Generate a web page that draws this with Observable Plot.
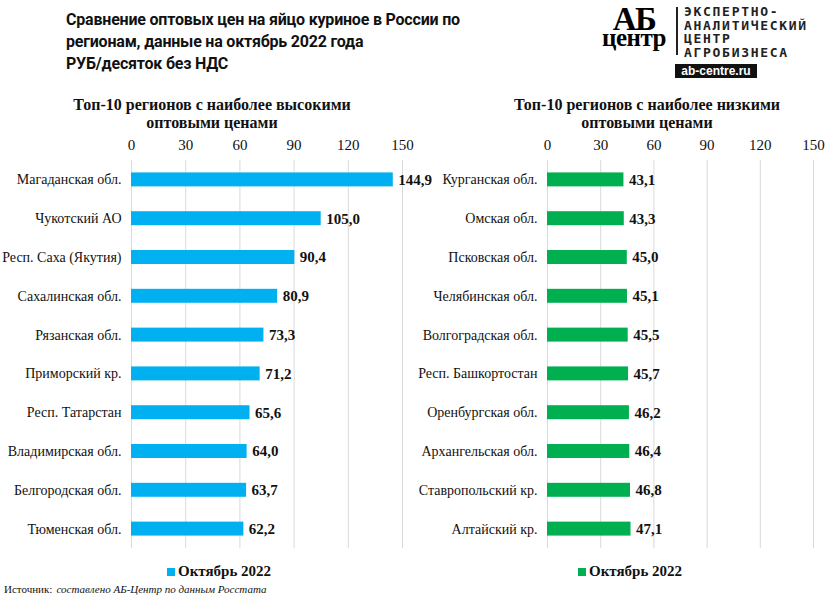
<!DOCTYPE html>
<html><head><meta charset="utf-8">
<script src="https://cdn.jsdelivr.net/npm/d3@7"></script>
<script src="https://cdn.jsdelivr.net/npm/@observablehq/plot@0.6"></script>
<style>
body{margin:0;background:#fff;width:828px;height:598px;position:relative;overflow:hidden;font-family:"Liberation Serif",serif;}
.abs{position:absolute;}
#title{left:66px;top:9px;font-family:Roboto,sans-serif;font-weight:700;font-size:16px;line-height:22px;color:#111;letter-spacing:-0.2px;}
.ptitle{font-family:"Liberation Serif",serif;font-weight:700;font-size:16px;line-height:18px;text-align:center;width:400px;color:#111;}
.legend{font-family:"Liberation Serif",serif;font-weight:700;font-size:15px;color:#111;display:flex;align-items:center;}
.legend span.sw{display:inline-block;width:8px;height:8px;margin-right:3px;}
#source{left:4px;top:583px;font-size:11px;color:#111;}
#source i{margin-left:4px;}
svg{overflow:visible;}
</style></head>
<body>
<div id="title" class="abs">Сравнение оптовых цен на яйцо куриное в России по<br>регионам, данные на октябрь 2022 года<br>РУБ/десяток без НДС</div>

<div id="logo" class="abs" style="left:596px;top:0px;width:220px;height:80px;">
  <div class="abs" style="left:-2px;top:11px;width:80px;text-align:center;font-family:'Liberation Serif',serif;font-weight:700;font-size:25px;line-height:16px;letter-spacing:-0.5px;"><span style="font-size:33px;line-height:16px;letter-spacing:-1.5px;">АБ</span><br>центр</div>
  <div class="abs" style="left:80px;top:7px;width:2px;height:48px;background:#222;"></div>
  <div class="abs" style="left:88px;top:5px;font-family:'DejaVu Sans Mono',monospace;font-weight:700;font-size:13px;line-height:13.5px;letter-spacing:1.7px;color:#222;">ЭКСПЕРТНО-<br>АНАЛИТИЧЕСКИЙ<br>ЦЕНТР<br>АГРОБИЗНЕСА</div>
  <div class="abs" style="left:79px;top:64px;width:82px;height:14px;background:#111;color:#fff;font-family:'Liberation Sans',sans-serif;font-weight:700;font-size:12px;line-height:14px;text-align:center;">ab-centre.ru</div>
</div>

<div class="abs ptitle" style="left:12px;top:96px;">Топ-10 регионов с наиболее высокими<br>оптовыми ценами</div>
<div class="abs ptitle" style="left:447px;top:96px;">Топ-10 регионов с наиболее низкими<br>оптовыми ценами</div>

<div id="left" class="abs" style="left:0;top:128px;"></div>
<div id="right" class="abs" style="left:414px;top:128px;"></div>

<div class="abs legend" style="left:167px;top:563px;"><span class="sw" style="background:#00B0F0"></span>Октябрь 2022</div>
<div class="abs legend" style="left:578px;top:563px;"><span class="sw" style="background:#00B050"></span>Октябрь 2022</div>

<div id="source" class="abs">Источник:<i>составлено АБ-Центр по данным Росстата</i></div>

<script>
const highRegions = ["Магаданская обл.","Чукотский АО","Респ. Саха (Якутия)","Сахалинская обл.","Рязанская обл.","Приморский кр.","Респ. Татарстан","Владимирская обл.","Белгородская обл.","Тюменская обл."];
const highValues = [144.9,105.0,90.4,80.9,73.3,71.2,65.6,64.0,63.7,62.2];
const lowRegions = ["Курганская обл.","Омская обл.","Псковская обл.","Челябинская обл.","Волгоградская обл.","Респ. Башкортостан","Оренбургская обл.","Архангельская обл.","Ставропольский кр.","Алтайский кр."];
const lowValues = [43.1,43.3,45.0,45.1,45.5,45.7,46.2,46.4,46.8,47.1];
const xTicks = [0,30,60,90,120,150];
const seriesName = "Октябрь 2022";

const fmt = v => d3.format(".1f")(v).replace(".", ",");

function panel(regions, values, color, marginLeft, marginRight) {
  const data = regions.map((r, i) => ({region: r, value: values[i]}));
  return Plot.plot({
    width: 414,
    height: 420,
    marginTop: 32,
    marginBottom: 0,
    marginLeft,
    marginRight,
    style: {fontFamily: "'Liberation Serif', serif", color: "#111", background: "transparent"},
    x: {domain: [0, 150], axis: null},
    y: {domain: regions, paddingInner: 0.64, paddingOuter: 0.32, round: false, axis: null},
    marks: [
      Plot.ruleX(xTicks, {stroke: "#d9d9d9", strokeWidth: 1}),
      Plot.barX(data, {x: "value", y: "region", fill: color}),
      Plot.text(data, {x: "value", y: "region", text: d => fmt(d.value), textAnchor: "start", dx: 5, fontWeight: "bold", fontSize: 15, fill: "#111"}),
      Plot.axisX({anchor: "top", ticks: xTicks, tickSize: 0, tickPadding: 11, fontSize: 15, label: null}),
      Plot.axisY({tickSize: 0, tickPadding: 10, fontSize: 14, label: null})
    ]
  });
}

document.getElementById("left").append(panel(highRegions, highValues, "#00B0F0", 131, 12));
document.getElementById("right").append(panel(lowRegions, lowValues, "#00B050", 133, 15));
</script>
</body></html>
